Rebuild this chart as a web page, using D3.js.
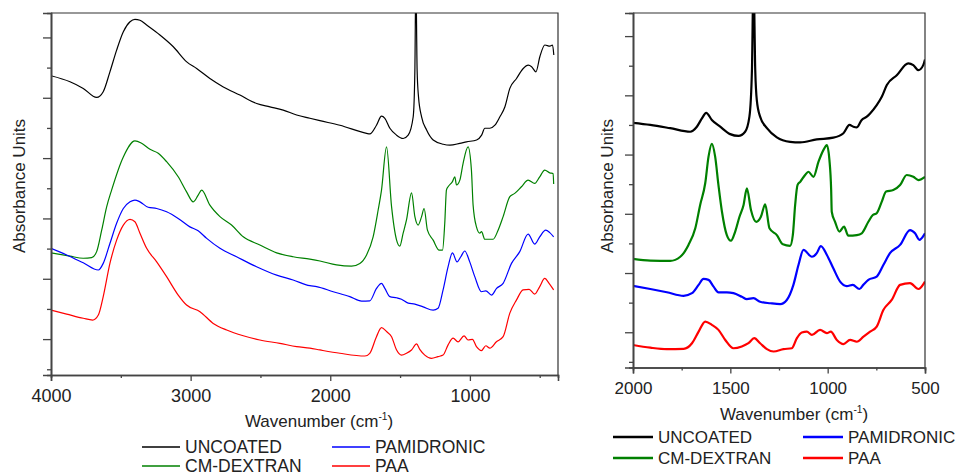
<!DOCTYPE html>
<html><head><meta charset="utf-8">
<script src="https://cdn.jsdelivr.net/npm/d3@7"></script>
<style>
html,body{margin:0;padding:0;background:#fff;}
svg{display:block;font-family:Arial,"Liberation Sans",sans-serif;}
</style></head><body>
<svg id="chart" width="956" height="476"></svg>
<script>
// ---------- DATA : [wavenumber (cm-1), absorbance (arb. units)] ----------
// Full range panel (4000 - 400 cm-1)
const uncoatedFull = [[4000,9.73],[3864,9.53],[3769,9.31],[3673,9.01],[3626,9.20],[3578,9.86],[3530,10.58],[3482,11.19],[3434,11.52],[3399,11.60],[3363,11.57],[3315,11.41],[3220,11.08],[3124,10.69],[3028,10.19],[2957,9.97],[2862,9.64],[2766,9.36],[2647,9.09],[2527,8.81],[2432,8.70],[2337,8.59],[2241,8.43],[2146,8.32],[2074,8.24],[1931,8.09],[1740,7.82],[1717,7.80],[1669,8.09],[1633,8.39],[1609,8.32],[1573,7.99],[1525,7.76],[1478,7.65],[1442,7.76],[1406,8.37],[1394,9.92],[1387,13.0],[1378,9.92],[1368,9.03],[1346,8.37],[1310,7.93],[1263,7.60],[1191,7.46],[1143,7.43],[1072,7.49],[1024,7.54],[952,7.60],[916,7.76],[893,7.99],[857,7.99],[821,8.09],[785,8.37],[749,8.70],[714,9.31],[666,9.64],[618,9.97],[582,10.08],[558,10.03],[527,9.86],[499,10.36],[463,10.75],[427,10.71],[408,10.75],[399,10.42]];
const dextranFull = [[4000,3.86],[3864,3.75],[3769,3.68],[3709,3.70],[3673,3.90],[3637,4.61],[3601,5.39],[3566,5.94],[3482,7.04],[3399,7.57],[3351,7.49],[3291,7.29],[3232,7.16],[3172,6.88],[3089,6.38],[3029,5.88],[2981,5.55],[2946,5.77],[2921,5.94],[2862,5.44],[2790,5.06],[2707,4.78],[2623,4.39],[2504,4.12],[2384,3.86],[2266,3.73],[2146,3.65],[2074,3.59],[1955,3.46],[1848,3.42],[1788,3.51],[1740,3.79],[1693,4.39],[1657,5.28],[1633,5.94],[1597,7.37],[1561,5.39],[1525,4.28],[1502,4.08],[1478,4.51],[1454,4.95],[1418,5.85],[1394,5.06],[1371,4.78],[1346,5.06],[1328,5.33],[1304,4.61],[1263,4.28],[1220,3.95],[1196,3.95],[1180,4.84],[1168,5.94],[1156,6.05],[1125,6.22],[1108,6.38],[1096,6.11],[1072,6.27],[1049,6.82],[1013,7.37],[989,6.60],[977,5.44],[953,4.72],[929,4.51],[917,4.56],[893,4.31],[834,4.31],[798,4.61],[762,5.06],[714,5.72],[679,5.83],[631,6.05],[583,6.27],[536,6.16],[500,6.38],[464,6.60],[428,6.51],[404,6.49],[400,6.14]];
const pamidronicFull = [[4000,4.01],[3888,3.79],[3769,3.53],[3661,3.29],[3626,3.51],[3578,4.17],[3530,4.84],[3482,5.33],[3434,5.55],[3399,5.61],[3363,5.55],[3304,5.37],[3243,5.33],[3172,5.22],[3089,5.00],[3005,4.72],[2946,4.59],[2885,4.34],[2790,4.01],[2671,3.73],[2528,3.40],[2384,3.12],[2266,2.96],[2146,2.77],[2098,2.74],[1979,2.57],[1860,2.41],[1776,2.26],[1717,2.27],[1669,2.68],[1633,2.85],[1609,2.68],[1573,2.41],[1525,2.37],[1490,2.32],[1442,2.19],[1394,2.16],[1335,2.07],[1263,1.96],[1228,2.02],[1192,2.63],[1156,3.40],[1125,3.86],[1092,3.56],[1065,3.73],[1037,3.92],[1001,3.56],[965,3.07],[917,2.57],[886,2.60],[845,2.46],[809,2.68],[762,2.85],[702,3.51],[643,3.90],[583,4.48],[536,4.15],[500,4.39],[457,4.61],[428,4.53],[400,4.39]];
const paaFull = [[4000,1.96],[3888,1.83],[3769,1.69],[3702,1.63],[3661,1.80],[3626,2.41],[3578,3.51],[3530,4.28],[3482,4.78],[3434,4.97],[3399,4.89],[3363,4.51],[3315,4.01],[3243,3.56],[3172,3.07],[3089,2.46],[3029,2.13],[2933,1.91],[2838,1.52],[2742,1.30],[2623,1.11],[2504,0.97],[2361,0.86],[2241,0.75],[2146,0.70],[2074,0.64],[1931,0.53],[1752,0.44],[1717,0.53],[1669,1.08],[1633,1.38],[1597,1.25],[1561,1.08],[1525,0.64],[1490,0.47],[1454,0.53],[1418,0.64],[1382,0.84],[1359,0.66],[1323,0.47],[1275,0.36],[1228,0.42],[1192,0.47],[1156,0.81],[1120,1.03],[1085,0.91],[1042,1.11],[1013,0.97],[982,0.99],[953,0.75],[917,0.62],[886,0.78],[857,0.70],[810,0.91],[762,1.08],[714,1.86],[666,2.30],[619,2.63],[576,2.65],[536,2.49],[500,2.74],[464,3.01],[433,2.85],[400,2.63]];

// Fingerprint panel (2000 - 500 cm-1)
const uncoatedZoom = [[2000,8.07],[1911,8.00],[1809,7.89],[1706,7.77],[1672,7.94],[1646,8.22],[1624,8.41],[1595,8.17],[1552,7.94],[1501,7.69],[1458,7.63],[1424,7.77],[1402,8.28],[1389,9.85],[1381,13.0],[1372,9.85],[1364,8.84],[1347,8.28],[1312,7.89],[1261,7.58],[1193,7.43],[1141,7.41],[1056,7.51],[971,7.57],[919,7.72],[888,8.00],[868,7.94],[850,7.92],[825,8.17],[799,8.28],[782,8.39],[748,8.67],[722,8.95],[696,9.35],[645,9.68],[586,10.08],[560,10.02],[534,9.85],[509,10.02],[500,10.21]];
const dextranZoom = [[2000,3.48],[1911,3.42],[1809,3.41],[1757,3.55],[1715,3.95],[1680,4.51],[1655,5.30],[1629,6.03],[1612,6.93],[1595,7.36],[1578,6.93],[1561,5.97],[1543,5.07],[1518,4.28],[1497,4.09],[1475,4.40],[1453,4.90],[1432,5.30],[1415,5.86],[1394,5.13],[1367,4.73],[1343,4.90],[1321,5.32],[1299,4.51],[1261,4.28],[1230,3.97],[1193,3.92],[1179,4.28],[1167,5.30],[1155,5.97],[1141,6.08],[1116,6.31],[1099,6.42],[1073,6.25],[1047,6.76],[1022,7.15],[1004,7.32],[991,6.82],[982,5.80],[979,5.07],[962,4.73],[940,4.40],[916,4.57],[894,4.26],[850,4.28],[825,4.34],[791,4.73],[768,4.96],[748,5.02],[722,5.41],[700,5.75],[663,5.80],[628,5.97],[594,6.31],[560,6.25],[534,6.14],[500,6.25]];
const pamidronicZoom = [[2000,2.57],[1911,2.46],[1826,2.35],[1740,2.23],[1697,2.32],[1663,2.60],[1638,2.80],[1612,2.77],[1586,2.54],[1561,2.35],[1518,2.35],[1484,2.32],[1441,2.20],[1415,2.12],[1381,2.15],[1347,2.03],[1295,1.98],[1244,1.95],[1210,2.09],[1176,2.60],[1150,3.27],[1124,3.78],[1081,3.55],[1056,3.67],[1035,3.91],[1004,3.61],[971,3.16],[936,2.71],[902,2.56],[871,2.60],[837,2.46],[817,2.60],[791,2.77],[748,2.88],[714,3.27],[680,3.67],[628,3.95],[577,4.45],[551,4.34],[529,4.12],[500,4.34]];
const paaZoom = [[2000,0.57],[1911,0.48],[1826,0.43],[1740,0.44],[1697,0.63],[1663,1.02],[1629,1.36],[1595,1.25],[1561,1.08],[1526,0.74],[1484,0.46],[1441,0.52],[1407,0.63],[1377,0.80],[1347,0.63],[1312,0.43],[1278,0.35],[1227,0.43],[1184,0.46],[1158,0.80],[1133,0.99],[1107,1.02],[1081,0.91],[1039,1.08],[1004,0.97],[984,1.02],[953,0.74],[919,0.60],[885,0.74],[850,0.68],[816,0.85],[782,1.02],[748,1.19],[714,1.75],[671,2.09],[628,2.60],[577,2.66],[534,2.46],[500,2.71]];

const seriesNames = ["UNCOATED","CM-DEXTRAN","PAMIDRONIC","PAA"];
const seriesColors = ["#000000","#008000","#0000ff","#ff0000"];
const fullTicksMajor = [4000,3000,2000,1000];
const fullTicksMinor = [3500,2500,1500,500];
const zoomTicksMajor = [2000,1500,1000,500];
const zoomTicksMinor = [1750,1250,750];
const yTicks = [0,1,2,3,4,5,6,7,8,9,10,11];
const yLabel = "Absorbance Units";
const xLabel = "Wavenumber (cm";

// ---------- DRAWING ----------
const svg = d3.select("#chart");

function panel(cfg){
  const g = svg.append("g");
  const x = d3.scaleLinear().domain(cfg.xDomain).range([cfg.left, cfg.right]);
  const y = d3.scaleLinear().domain(cfg.yDomain).range([cfg.bottom, cfg.top]);
  const clipId = "clip" + cfg.id;
  svg.append("clipPath").attr("id", clipId).append("rect")
    .attr("x", cfg.left).attr("y", cfg.top)
    .attr("width", cfg.right - cfg.left).attr("height", cfg.bottom - cfg.top);

  const line = d3.line().x(d => x(d[0])).y(d => y(d[1])).curve(d3.curveMonotoneX);
  cfg.data.forEach((s, i) => {
    g.append("path").datum(s)
      .attr("clip-path", `url(#${clipId})`)
      .attr("fill", "none").attr("stroke", seriesColors[i])
      .attr("stroke-width", cfg.lw).attr("stroke-linejoin", "round")
      .attr("d", line);
  });

  // frame top/right
  g.append("path")
    .attr("d", `M${cfg.left},${cfg.top}H${cfg.right}V${cfg.bottom}`)
    .attr("fill","none").attr("stroke","#333").attr("stroke-width",1.2);

  // x axes
  const xMaj = d3.axisBottom(x).tickValues(cfg.xMajor).tickSize(6).tickPadding(cfg.tickPad).tickFormat(d3.format("d"));
  const xMin = d3.axisBottom(x).tickValues(cfg.xMinor).tickSize(3).tickFormat("");
  const gx = g.append("g").attr("transform", `translate(0,${cfg.bottom})`).call(xMaj);
  g.append("g").attr("transform", `translate(0,${cfg.bottom})`).call(xMin);
  // y axes
  const yMaj = d3.axisLeft(y).tickValues(yTicks.filter(v => v % 2 === 1)).tickSize(8).tickFormat("");
  const yMin = d3.axisLeft(y).tickValues(yTicks.filter(v => v % 2 === 0)).tickSize(4).tickFormat("");
  g.append("g").attr("transform", `translate(${cfg.left},0)`).call(yMaj);
  g.append("g").attr("transform", `translate(${cfg.left},0)`).call(yMin);

  g.selectAll(".domain").attr("stroke","#444").attr("stroke-width",1.6);
  g.selectAll(".tick line").attr("stroke","#444").attr("stroke-width",1.3);
  gx.selectAll("text").attr("font-size", cfg.tickFont).attr("fill","#222")
    .attr("font-family","Arial, 'Liberation Sans', sans-serif");

  // y label
  svg.append("text")
    .attr("transform", `translate(${cfg.yLabX},${cfg.yLabY}) rotate(-90)`)
    .attr("text-anchor","middle").attr("font-size", cfg.labFont).attr("fill","#222")
    .text(yLabel);
  // x label with superscript
  const xl = svg.append("text").attr("x", cfg.xLabX).attr("y", cfg.xLabY)
    .attr("text-anchor","middle").attr("font-size", cfg.labFont).attr("fill","#222");
  xl.append("tspan").text(xLabel);
  xl.append("tspan").attr("font-size", cfg.labFont*0.6).attr("dy", -7).text("-1");
  xl.append("tspan").attr("dy", 7).text(")");

  // legend: column 1 = UNCOATED, CM-DEXTRAN ; column 2 = PAMIDRONIC, PAA
  seriesNames.forEach((n, i) => {
    const col = i < 2 ? 0 : 1;
    const row = i % 2;
    const lx = cfg.legX[col], ly = cfg.legY + row * cfg.legDy;
    svg.append("line").attr("x1", lx).attr("x2", lx + cfg.legLen)
      .attr("y1", ly).attr("y2", ly)
      .attr("stroke", seriesColors[i]).attr("stroke-width", cfg.legLw);
    svg.append("text").attr("x", lx + cfg.legLen + 5).attr("y", ly + 6)
      .attr("font-size", cfg.legFont).attr("fill","#222").text(n);
  });
}

panel({
  id: "A", left: 51, right: 558, top: 13, bottom: 375,
  xDomain: [4000, 369], yDomain: [-0.19, 11.81],
  data: [uncoatedFull, dextranFull, pamidronicFull, paaFull],
  lw: 1.2, xMajor: fullTicksMajor, xMinor: fullTicksMinor,
  tickPad: 8, tickFont: 18, labFont: 17,
  yLabX: 25, yLabY: 186, xLabX: 319, xLabY: 427,
  legX: [142, 332], legY: 447, legDy: 19, legLen: 38, legLw: 1.3, legFont: 17.5
});
panel({
  id: "B", left: 633, right: 925, top: 13, bottom: 367.5,
  xDomain: [2000, 500], yDomain: [-0.19, 11.78],
  data: [uncoatedZoom, dextranZoom, pamidronicZoom, paaZoom],
  lw: 2.2, xMajor: zoomTicksMajor, xMinor: zoomTicksMinor,
  tickPad: 8, tickFont: 17, labFont: 17,
  yLabX: 613, yLabY: 186, xLabX: 794, xLabY: 420,
  legX: [613, 803], legY: 437, legDy: 21, legLen: 40, legLw: 2.5, legFont: 17
});
</script>
</body></html>
